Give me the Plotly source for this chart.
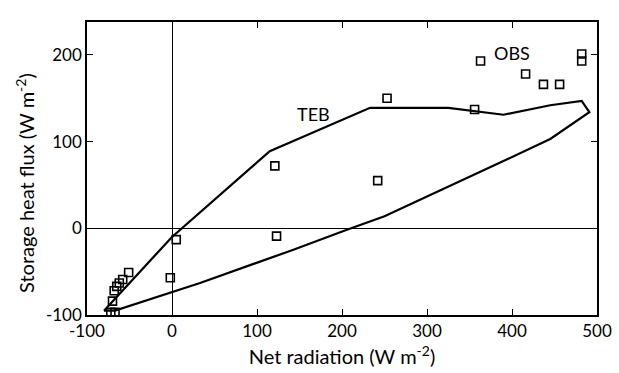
import plotly.graph_objects as go

# Observed points (OBS)
obs_x = [363, 416, 437, 456, 482, 482, 356, 253, 121, 123, 242, 5, -2,
         -51, -58, -62, -65, -68, -70, -72, -67]
obs_y = [193, 178, 166, 166, 201, 193, 137, 150, 72, -9, 55, -13, -57,
         -51, -59, -63, -67, -72, -84, -97, -97]

# Model hysteresis loop (TEB)
teb_x = [-80, 0, 115, 233, 325, 390, 445, 482, 491, 445, 395, 250, 205, 142, 33, -67, -80]
teb_y = [-95, -10, 89, 139, 139, 131, 142, 147, 134, 103, 80, 14, -2, -25, -63, -95, -95]

x_ticks = [-100, 0, 100, 200, 300, 400, 500]
y_ticks = [-100, 0, 100, 200]

FONT = "Lato"

fig = go.Figure()
fig.add_trace(go.Scatter(x=teb_x, y=teb_y, mode="lines",
                         line=dict(color="black", width=2.2), showlegend=False))
fig.add_trace(go.Scatter(x=obs_x, y=obs_y, mode="markers",
                         marker=dict(symbol="square-open", size=8, color="black",
                                     line=dict(width=1.6, color="black")),
                         showlegend=False))

fig.add_annotation(x=400, y=202, text="OBS", showarrow=False,
                   font=dict(family=FONT, size=18, color="black"))
fig.add_annotation(x=166, y=132, text="TEB", showarrow=False,
                   font=dict(family=FONT, size=18, color="black"))

# y-axis title placed as rotated annotation
fig.add_annotation(xref="paper", yref="paper", x=-0.122, y=0.45,
                   text="Storage heat flux (W m<sup>-2</sup>)", textangle=-90,
                   showarrow=False, xanchor="center", yanchor="middle",
                   font=dict(family=FONT, size=20, color="black"))

axis_common = dict(showgrid=False, zeroline=True, zerolinecolor="black", zerolinewidth=1.2,
                   showline=True, linecolor="black", linewidth=1.5, mirror="ticks",
                   ticks="inside", ticklen=6, tickwidth=1, tickcolor="black",
                   tickfont=dict(family=FONT, size=17, color="black"), automargin=False)

fig.update_xaxes(range=[-100, 500], tickvals=x_ticks, ticktext=[str(v) for v in x_ticks],
                 title=dict(text="Net radiation (W m<sup>-2</sup>)",
                            font=dict(family=FONT, size=20, color="black"), standoff=10),
                 **axis_common)
fig.update_yaxes(range=[-100, 238], tickvals=y_ticks, ticktext=[str(v) for v in y_ticks],
                 **axis_common)

fig.update_layout(width=619, height=373, margin=dict(l=87, r=22, t=22, b=58),
                  plot_bgcolor="white", paper_bgcolor="white")

fig.write_html("out.html")
